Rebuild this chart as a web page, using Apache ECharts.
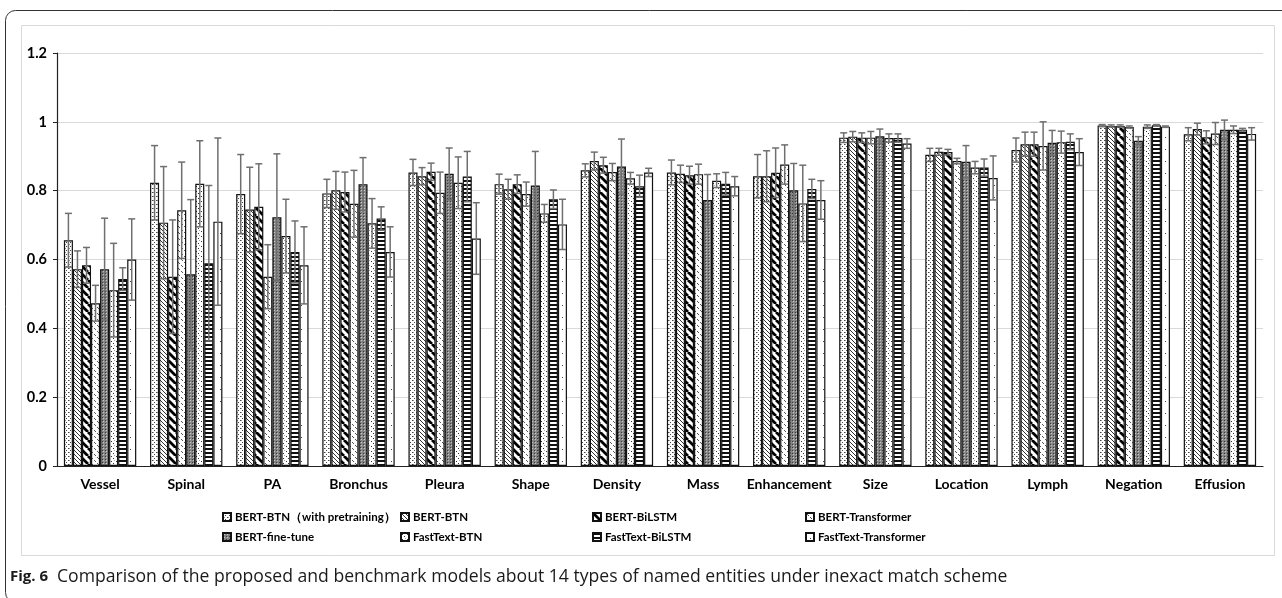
<!DOCTYPE html>
<html><head><meta charset="utf-8">
<script src="https://cdn.jsdelivr.net/npm/echarts@6/dist/echarts.min.js"></script>
<style>html,body{margin:0;padding:0;background:#fff}#c{width:1282px;height:598px}</style>
</head><body><div id="c"></div>
<script>
const categories = ['Vessel','Spinal','PA','Bronchus','Pleura','Shape','Density','Mass','Enhancement','Size','Location','Lymph','Negation','Effusion'];
const seriesNames = ['BERT-BTN（with pretraining）','BERT-BTN','BERT-BiLSTM','BERT-Transformer','BERT-fine-tune','FastText-BTN','FastText-BiLSTM','FastText-Transformer'];
const yTicks = [0, 0.2, 0.4, 0.6, 0.8, 1, 1.2];

const bertBtnPre      = [0.656,0.823,0.790,0.792,0.853,0.819,0.859,0.853,0.842,0.954,0.904,0.918,0.989,0.964];
const bertBtnPreErr   = [0.078,0.108,0.115,0.041,0.038,0.029,0.019,0.036,0.063,0.014,0.019,0.035,0.003,0.019];
const bertBtn         = [0.572,0.707,0.745,0.801,0.842,0.804,0.886,0.849,0.842,0.957,0.913,0.935,0.988,0.979];
const bertBtnErr      = [0.053,0.163,0.123,0.055,0.025,0.029,0.026,0.025,0.074,0.015,0.010,0.035,0.003,0.017];
const bertBilstm      = [0.583,0.550,0.753,0.796,0.855,0.819,0.874,0.845,0.852,0.954,0.912,0.935,0.988,0.955];
const bertBilstmErr   = [0.052,0.165,0.125,0.058,0.025,0.027,0.023,0.026,0.072,0.014,0.008,0.035,0.003,0.019];
const bertTrans       = [0.473,0.743,0.550,0.762,0.794,0.790,0.854,0.848,0.876,0.954,0.886,0.930,0.985,0.966];
const bertTransErr    = [0.052,0.140,0.093,0.097,0.060,0.035,0.025,0.029,0.057,0.018,0.008,0.070,0.003,0.032];
const bertFine        = [0.572,0.557,0.723,0.819,0.849,0.815,0.870,0.773,0.801,0.958,0.884,0.939,0.945,0.977];
const bertFineErr     = [0.148,0.217,0.184,0.077,0.075,0.099,0.080,0.074,0.078,0.021,0.047,0.036,0.012,0.028];
const ftBtn           = [0.511,0.820,0.668,0.705,0.823,0.734,0.836,0.829,0.763,0.953,0.867,0.941,0.986,0.977];
const ftBtnErr        = [0.136,0.125,0.107,0.072,0.075,0.026,0.017,0.020,0.111,0.012,0.018,0.032,0.005,0.011];
const ftBilstm        = [0.543,0.589,0.622,0.719,0.841,0.775,0.813,0.820,0.805,0.953,0.867,0.942,0.990,0.977];
const ftBilstmErr     = [0.033,0.226,0.090,0.034,0.073,0.027,0.032,0.033,0.028,0.012,0.025,0.023,0.002,0.004];
const ftTrans         = [0.600,0.710,0.583,0.622,0.661,0.702,0.853,0.813,0.773,0.937,0.837,0.912,0.986,0.965];
const ftTransErr      = [0.118,0.243,0.112,0.073,0.104,0.073,0.012,0.028,0.056,0.014,0.064,0.039,0.002,0.018];

const values = [bertBtnPre,bertBtn,bertBilstm,bertTrans,bertFine,ftBtn,ftBilstm,ftTrans];
const errors = [bertBtnPreErr,bertBtnErr,bertBilstmErr,bertTransErr,bertFineErr,ftBtnErr,ftBilstmErr,ftTransErr];

function tile(w,h,draw){const c=document.createElement('canvas');c.width=w;c.height=h;const g=c.getContext('2d');draw(g);return c;}
const patterns = [
  tile(4,4,g=>{g.fillStyle='#fff';g.fillRect(0,0,4,4);g.fillStyle='#444';g.fillRect(0,0,1,1);g.fillRect(2,2,1,1);g.fillStyle='#999';g.fillRect(1,0,1,1);}),
  tile(4,4,g=>{g.fillStyle='#fff';g.fillRect(0,0,4,4);g.strokeStyle='#333';g.lineWidth=1;g.beginPath();for(let k=-4;k<=4;k+=4){g.moveTo(k,0);g.lineTo(k+4,4);}g.stroke();}),
  tile(8,8,g=>{g.fillStyle='#fff';g.fillRect(0,0,8,8);g.strokeStyle='#000';g.lineWidth=2.8;g.beginPath();for(let k=-8;k<=8;k+=8){g.moveTo(k,0);g.lineTo(k+8,8);}g.stroke();}),
  tile(6,6,g=>{g.fillStyle='#fff';g.fillRect(0,0,6,6);g.fillStyle='#555';g.fillRect(1,1,1,1);g.fillRect(2,2,1,1);g.fillRect(4,4,1,1);g.fillRect(5,5,1,1);}),
  tile(3,3,g=>{g.fillStyle='#858585';g.fillRect(0,0,3,3);g.fillStyle='#3a3a3a';g.fillRect(0,0,1,1);g.fillStyle='#c8c8c8';g.fillRect(1,1,1,1);}),
  tile(5,5,g=>{g.fillStyle='#fff';g.fillRect(0,0,5,5);g.fillStyle='#333';g.fillRect(1,1,1,1);g.fillRect(3,3,1,1);g.fillStyle='#aaa';g.fillRect(4,0,1,1);}),
  tile(4,4,g=>{g.fillStyle='#fff';g.fillRect(0,0,4,4);g.fillStyle='#111';g.fillRect(0,0,4,2);}),
  tile(9,12,g=>{g.fillStyle='#fff';g.fillRect(0,0,9,12);g.fillStyle='#444';g.fillRect(4,5,1,1);})
];

const GAP = 0.16;
const series = [];
seriesNames.forEach((name,s)=>{
  series.push({
    name, type:'bar', barGap:'0%', barCategoryGap:(GAP*100)+'%', z:2,
    itemStyle:{color:{image:patterns[s],repeat:'repeat'},borderColor:'#111',borderWidth:1.2},
    emphasis:{disabled:true},
    data: values[s]
  });
});
seriesNames.forEach((name,s)=>{
  series.push({
    name:'err'+s, type:'custom', z:5, silent:true,
    data: values[s].map((v,i)=>[i,v,errors[s][i]]),
    renderItem:function(params,api){
      const ci=api.value(0), v=api.value(1), e=api.value(2);
      const w=api.size([1,0])[0];
      const bw=w*(1-GAP)/8;
      const cx=api.coord([ci,v])[0]-w*(1-GAP)/2+(s+0.5)*bw;
      const top=api.coord([ci,v+e])[1], bot=api.coord([ci,v-e])[1];
      const st={stroke:'#6f6f6f',lineWidth:1.5};
      return {type:'group',children:[
        {type:'line',shape:{x1:cx,y1:top,x2:cx,y2:bot},style:st},
        {type:'line',shape:{x1:cx-3.5,y1:top,x2:cx+3.5,y2:top},style:st},
        {type:'line',shape:{x1:cx-3.5,y1:bot,x2:cx+3.5,y2:bot},style:st}
      ]};
    }
  });
});

const font = 'Lato, "Liberation Sans", sans-serif';
const legendPos = [[222,511],[400,511],[592,511],[805,511],[222,531],[400,531],[592,531],[805,531]];
const legends = seriesNames.map((n,i)=>({
  data:[n], left:legendPos[i][0], top:legendPos[i][1], icon:'rect', itemWidth:8, itemHeight:8, itemGap:4,
  padding:0, selectedMode:false,
  textStyle:{fontFamily:font,fontWeight:'bold',fontSize:11.5,color:'#000',padding:[0,0,0,-1]}
}));

const chart = echarts.init(document.getElementById('c'),null,{renderer:'canvas'});
chart.setOption({
  animation:false,
  backgroundColor:'#fff',
  grid:{left:57,right:19,top:53,bottom:132,containLabel:false},
  legend:legends,
  xAxis:{type:'category',data:categories,
    axisLine:{lineStyle:{color:'#222',width:1.2}},
    axisTick:{lineStyle:{color:'#222'},length:4},
    axisLabel:{interval:0,fontFamily:font,fontWeight:'bold',fontSize:14,color:'#000',margin:11}},
  yAxis:{type:'value',min:yTicks[0],max:yTicks[yTicks.length-1],interval:0.2,
    axisLine:{show:true,lineStyle:{color:'#222',width:1.2}},
    axisTick:{show:true,length:4,lineStyle:{color:'#222'}},
    splitLine:{lineStyle:{color:'#d9d9d9',width:1}},
    axisLabel:{fontFamily:font,fontWeight:'bold',fontSize:14.5,color:'#000',margin:10,
      formatter:v=>String(Math.round(v*10)/10)}},
  series,
  graphic:[
    {type:'rect',z:-1,shape:{x:5.5,y:10.5,width:1300,height:592,r:10},style:{fill:'none',stroke:'#333',lineWidth:1}},
    {type:'rect',z:-1,shape:{x:21.5,y:25.5,width:1253,height:530},style:{fill:'none',stroke:'#d9d9d9',lineWidth:1}},
    {type:'text',x:10,y:577,style:{text:'Fig. 6',font:'bold 15px "Open Sans", sans-serif',fill:'#1a1a1a',verticalAlign:'middle'}},
    {type:'text',x:57,y:577,style:{text:'Comparison of the proposed and benchmark models about 14 types of named entities under inexact match scheme',font:'17.6px "Open Sans", sans-serif',fill:'#1a1a1a',verticalAlign:'middle'}}
  ]
});
</script></body></html>
